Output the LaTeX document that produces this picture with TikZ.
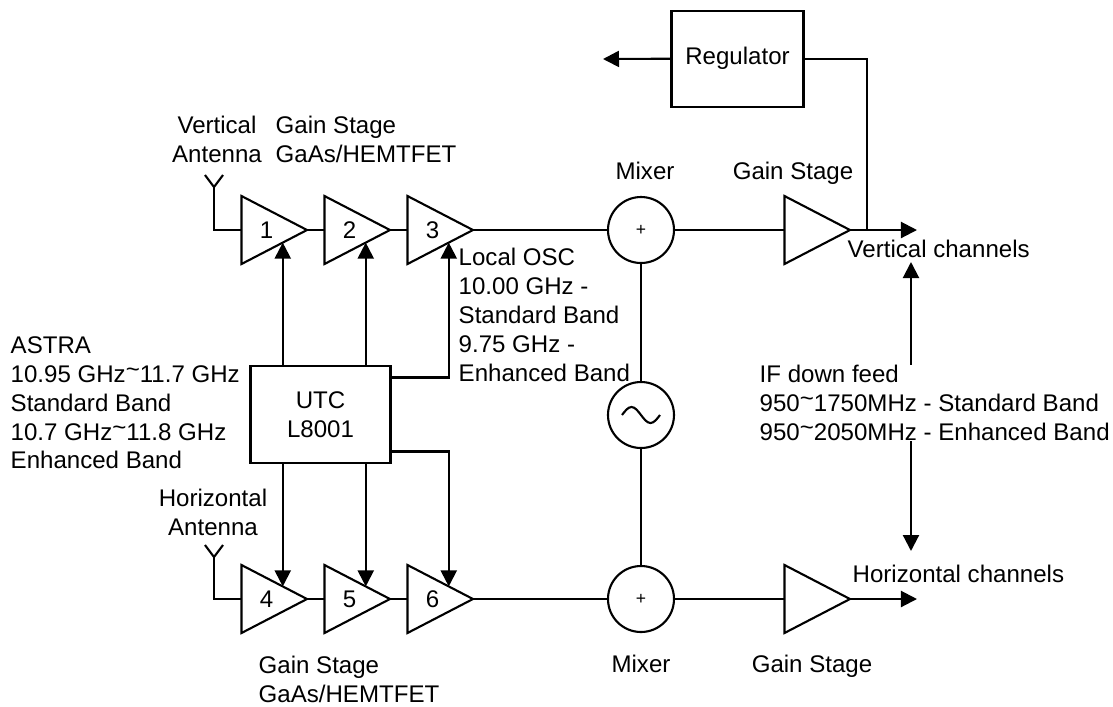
\documentclass[tikz,border=0pt]{standalone}
\usepackage{fontspec}
\setmainfont{Liberation Sans}
\usetikzlibrary{positioning,calc,arrows.meta,shapes.geometric}
\newcommand{\tld}{\raisebox{.2em}{\textasciitilde}}
\tikzset{
	ampStage/.style={draw, isosceles triangle, isosceles triangle stretches, shape border rotate=0,
		minimum width=0.68cm, minimum height=0.655cm, inner sep=0pt, outer sep=0pt, anchor=apex, line width=0.6pt},
	mixerNode/.style={draw, circle, minimum size=0.66cm, inner sep=0pt, outer sep=0pt, line width=0.6pt},
	blockBox/.style={draw, inner sep=0pt, outer sep=0pt, line width=0.6pt},
	labelText/.style={inner sep=0pt, align=left, font=\fontsize{6.85}{8.2}\selectfont},
	centerText/.style={labelText, align=center},
	sigLine/.style={line width=0.6pt},
	sigArrow/.style={line width=0.6pt, -{Triangle[length=1.6mm,width=1.6mm]}}
}
\begin{document}
\begin{tikzpicture}
	\useasboundingbox (0,0) rectangle (11.13,-7.06);
	% amplifiers
	\node[ampStage] (amp1) at (3.07,-2.30) {};
	\node[ampStage] (amp2) at (3.90,-2.30) {};
	\node[ampStage] (amp3) at (4.73,-2.30) {};
	\node[ampStage] (amp4) at (3.07,-5.99) {};
	\node[ampStage] (amp5) at (3.90,-5.99) {};
	\node[ampStage] (amp6) at (4.73,-5.99) {};
	\node[ampStage] (gainV) at (8.50,-2.30) {};
	\node[ampStage] (gainH) at (8.50,-5.99) {};
	\foreach \n in {1,...,6}{
		\node[labelText] (num\n) at ($(amp\n.west)+(0.25,0)$) {\n};
	}
	% mixers and oscillator
	\node[mixerNode, font=\fontsize{5}{6}\selectfont] (mixV) at (6.41,-2.30) {+};
	\node[mixerNode, font=\fontsize{5}{6}\selectfont] (mixH) at (6.41,-5.99) {+};
	\node[mixerNode] (osc) at (6.41,-4.15) {};
	\draw[sigLine] ($(osc.center)+(-0.19,0)$) sin ++(0.095,0.08) cos ++(0.095,-0.08) sin ++(0.095,-0.08) cos ++(0.095,0.08);
	% boxes
	\node[blockBox, centerText, minimum width=1.40cm, minimum height=0.97cm] (utc) at (3.205,-4.145) {UTC\\L8001};
	\node[blockBox, centerText, minimum width=1.32cm, minimum height=0.96cm] (reg) at (7.375,-0.587) {Regulator};
	% texts
	\node[centerText] (vAntLbl) at (2.17,-1.39) {Vertical\\Antenna};
	\node[labelText, anchor=west] (gainLblA) at (2.75,-1.39) {Gain Stage\\GaAs/HEMTFET};
	\node[centerText] (mixLblA) at (6.45,-1.71) {Mixer};
	\node[centerText] (gainLblB) at (7.93,-1.73) {Gain Stage};
	\node[labelText, anchor=west] (oscLbl) at (4.58,-3.15) {Local OSC\\10.00 GHz -\\Standard Band\\9.75 GHz -\\Enhanced Band};
	\node[labelText, anchor=west] (astraLbl) at (0.10,-4.03) {ASTRA\\10.95 GHz\tld 11.7 GHz\\Standard Band\\10.7 GHz\tld 11.8 GHz\\Enhanced Band};
	\node[centerText] (hAntLbl) at (2.13,-5.12) {Horizontal\\Antenna};
	\node[labelText, anchor=west] (gainLblC) at (2.58,-6.79) {Gain Stage\\GaAs/HEMTFET};
	\node[centerText] (mixLblB) at (6.41,-6.64) {Mixer};
	\node[centerText] (gainLblD) at (8.12,-6.66) {Gain Stage};
	\node[labelText, anchor=west] (vChan) at (8.47,-2.49) {Vertical channels};
	\node[labelText, anchor=west] (hChan) at (8.52,-5.74) {Horizontal channels};
	\node[labelText, anchor=west] (ifLbl) at (7.59,-4.03) {IF down feed\\950\tld 1750MHz - Standard Band\\950\tld 2050MHz - Enhanced Band};
	% free ends
	\coordinate (regOut) at (6.03,-0.59);
	\coordinate (vOut) at (9.17,-2.30);
	\coordinate (hOut) at (9.17,-5.99);
	\coordinate (vJoin) at (8.67,-2.30);
	\coordinate (vTip) at (9.11,-2.62);
	\coordinate (hTip) at (9.11,-5.51);
	\coordinate (antV) at (2.14,-1.87);
	\coordinate (antH) at (2.14,-5.57);
	% antennas
	\draw[sigLine] (2.05,-1.75) -- (antV) -- (2.23,-1.75);
	\draw[sigLine] (2.05,-5.45) -- (antH) -- (2.23,-5.45);
	\draw[sigLine] (antV) |- (amp1.west);
	\draw[sigLine] (antH) |- (amp4.west);
	% signal chain
	\draw[sigLine] (amp1.apex) -- (amp2.west);
	\draw[sigLine] (amp2.apex) -- (amp3.west);
	\draw[sigLine] (amp4.apex) -- (amp5.west);
	\draw[sigLine] (amp5.apex) -- (amp6.west);
	\draw[sigLine] (amp3.apex) -- (mixV.west);
	\draw[sigLine] (amp6.apex) -- (mixH.west);
	\draw[sigLine] (mixV.east) -- (gainV.west);
	\draw[sigLine] (mixH.east) -- (gainH.west);
	\draw[sigArrow] (gainV.apex) -- (vOut);
	\draw[sigArrow] (gainH.apex) -- (hOut);
	\draw[sigLine] (mixV.south) -- (osc.north);
	\draw[sigLine] (osc.south) -- (mixH.north);
	\draw[sigLine] (reg.east) -| (vJoin);
	\draw[sigArrow] (reg.west) -- (regOut);
	% bias lines
	\foreach \n in {1,2,3}{
		\coordinate (tip\n) at ($(amp\n.right corner)!0.63!(amp\n.apex)$);
	}
	\foreach \n in {4,5,6}{
		\coordinate (tip\n) at ($(amp\n.left corner)!0.63!(amp\n.apex)$);
	}
	\draw[sigArrow] (tip1 |- utc.north) -- (tip1);
	\draw[sigArrow] (tip2 |- utc.north) -- (tip2);
	\draw[sigArrow] ($(utc.east)+(0,0.37)$) -| (tip3);
	\draw[sigArrow] (tip4 |- utc.south) -- (tip4);
	\draw[sigArrow] (tip5 |- utc.south) -- (tip5);
	\draw[sigArrow] ($(utc.east)+(0,-0.37)$) -| (tip6);
	% if feed
	\draw[sigArrow] (ifLbl.north -| vTip) -- (vTip);
	\draw[sigArrow] (ifLbl.south -| hTip) -- (hTip);
\end{tikzpicture}
\end{document}
